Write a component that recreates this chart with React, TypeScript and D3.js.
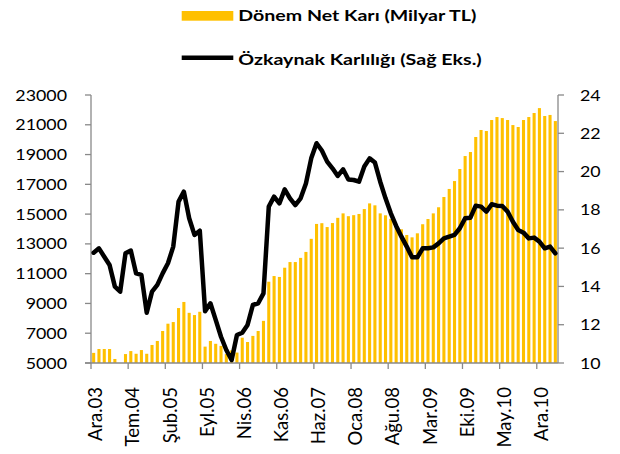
import React from "react";
import * as d3 from "d3";

const categories = [
  "Ara.03",
  "Oca.04","Şub.04","Mar.04","Nis.04","May.04","Haz.04","Tem.04","Ağu.04","Eyl.04","Eki.04","Kas.04","Ara.04",
  "Oca.05","Şub.05","Mar.05","Nis.05","May.05","Haz.05","Tem.05","Ağu.05","Eyl.05","Eki.05","Kas.05","Ara.05",
  "Oca.06","Şub.06","Mar.06","Nis.06","May.06","Haz.06","Tem.06","Ağu.06","Eyl.06","Eki.06","Kas.06","Ara.06",
  "Oca.07","Şub.07","Mar.07","Nis.07","May.07","Haz.07","Tem.07","Ağu.07","Eyl.07","Eki.07","Kas.07","Ara.07",
  "Oca.08","Şub.08","Mar.08","Nis.08","May.08","Haz.08","Tem.08","Ağu.08","Eyl.08","Eki.08","Kas.08","Ara.08",
  "Oca.09","Şub.09","Mar.09","Nis.09","May.09","Haz.09","Tem.09","Ağu.09","Eyl.09","Eki.09","Kas.09","Ara.09",
  "Oca.10","Şub.10","Mar.10","Nis.10","May.10","Haz.10","Tem.10","Ağu.10","Eyl.10","Eki.10","Kas.10","Ara.10",
  "Oca.11","Şub.11","Mar.11",
];

// Dönem Net Karı (Milyar TL) - left axis
const netProfit = [
  5680, 5940, 5940, 5940, 5270, 4900, 5600, 5800, 5620, 5870, 5620, 6210,
  6480, 7150, 7640, 7750, 8690, 9100, 8370, 8220, 8440, 6100, 6480, 6290,
  6150, 5600, 5850, 5700, 6700, 6410, 6820, 7150, 7830, 10460, 10840, 10780,
  11400, 11780, 11780, 12060, 12460, 13340, 14340, 14390, 14130, 14400, 14750, 15050,
  14860, 14930, 15010, 15340, 15720, 15590, 15050, 14920, 14670, 14290, 13980, 13600,
  13440, 13710, 14320, 14670, 15050, 15460, 16150, 16690, 17220, 18030, 18900, 19170,
  20180, 20650, 20580, 21320, 21520, 21450, 21320, 20980, 20850, 21320, 21520, 21790,
  22120, 21590, 21660, 21250,
];

// Özkaynak Karlılığı (Sağ Eks.) - right axis
const roe = [
  15.76, 15.99, 15.55, 15.12, 13.99, 13.73, 15.73, 15.87, 14.68, 14.6, 12.63, 13.73,
  14.08, 14.68, 15.21, 16.08, 18.43, 18.95, 17.56, 16.69, 16.91, 12.7, 13.12, 12.25,
  11.37, 10.68, 10.16, 11.46, 11.58, 11.99, 13.03, 13.12, 13.64, 18.17, 18.69, 18.34,
  19.07, 18.6, 18.25, 18.6, 19.38, 20.69, 21.48, 21.1, 20.52, 20.17, 19.77, 20.12,
  19.59, 19.56, 19.47, 20.26, 20.69, 20.47, 19.47, 18.6, 17.82, 17.16, 16.6, 16.08,
  15.52, 15.52, 15.99, 15.99, 16.04, 16.25, 16.51, 16.6, 16.69, 17.04, 17.56, 17.59,
  18.22, 18.17, 17.91, 18.29, 18.22, 18.2, 17.91, 17.38, 16.95, 16.81, 16.51, 16.55,
  16.34, 15.99, 16.08, 15.73,
];

const leftTicks = [5000, 7000, 9000, 11000, 13000, 15000, 17000, 19000, 21000, 23000];
const rightTicks = [10, 12, 14, 16, 18, 20, 22, 24];
const xTickLabels = [
  "Ara.03", "Tem.04", "Şub.05", "Eyl.05", "Nis.06", "Kas.06", "Haz.07",
  "Oca.08", "Ağu.08", "Mar.09", "Eki.09", "May.10", "Ara.10",
];

const legendBar = "Dönem Net Karı (Milyar TL)";
const legendLine = "Özkaynak Karlılığı (Sağ Eks.)";

export default function App() {
  const W = 620, H = 454;
  const L = 91, R = 558, T = 95, B = 363;
  const font = "Lato, 'Open Sans', sans-serif";
  const axisColor = "#898989";
  const gold = "#FFC000";

  const idx = d3.range(categories.length);
  const x = d3.scaleBand<number>().domain(idx).range([L, R]).paddingInner(0.42).paddingOuter(0.21);
  const step = x.step();
  const yL = d3.scaleLinear().domain([5000, 23000]).range([B, T]);
  const yR = d3.scaleLinear().domain([10, 24]).range([B, T]);
  const cx = (i: number) => (x(i) as number) + x.bandwidth() / 2;
  const linePath = d3.line<number>().x((_, i) => cx(i)).y((d) => yR(d)).curve(d3.curveLinear)(roe) || "";

  const tickFs = 15.5;
  const tickSx = 1.15;
  const capOff = tickFs * 0.7165 / 2;

  return (
    <svg width={W} height={H} style={{ position: "absolute", left: 0, top: 0, background: "#fff" }} fontFamily={font}>
      {/* Legend */}
      <rect x={181.7} y={11} width={51.6} height={9.7} fill={gold} />
      <text x={238.3} y={20.8} fontSize={15.8} fontWeight={700} fill="#000" textLength={238} lengthAdjust="spacingAndGlyphs">{legendBar}</text>
      <line x1={181.7} x2={233.3} y1={57.7} y2={57.7} stroke="#000" strokeWidth={4.5} />
      <text x={238.3} y={65.2} fontSize={15.8} fontWeight={700} fill="#000" textLength={243.4} lengthAdjust="spacingAndGlyphs">{legendLine}</text>

      {/* Bars */}
      {netProfit.map((v, i) => {
        const top = yL(Math.max(v, 5000));
        return <rect key={i} x={x(i)} y={top} width={x.bandwidth()} height={Math.max(0, B - top)} fill={gold} />;
      })}

      {/* Axes */}
      <line x1={L} x2={L} y1={T} y2={B} stroke={axisColor} strokeWidth={1.3} />
      <line x1={R} x2={R} y1={T} y2={B} stroke={axisColor} strokeWidth={1.3} />
      <line x1={L - 6} x2={R} y1={B} y2={B} stroke={axisColor} strokeWidth={1.3} />
      {leftTicks.map((t) => (
        <g key={"l" + t}>
          <line x1={L - 6} x2={L} y1={yL(t)} y2={yL(t)} stroke={axisColor} strokeWidth={1.3} />
          <text transform={`translate(${L - 24},${yL(t) + capOff}) scale(${tickSx},1)`} textAnchor="end" fontSize={tickFs} fill="#000">{t}</text>
        </g>
      ))}
      {rightTicks.map((t) => (
        <g key={"r" + t}>
          <line x1={R} x2={R + 6} y1={yR(t)} y2={yR(t)} stroke={axisColor} strokeWidth={1.3} />
          <text transform={`translate(${R + 22},${yR(t) + capOff}) scale(${tickSx},1)`} textAnchor="start" fontSize={tickFs} fill="#000">{t}</text>
        </g>
      ))}
      {xTickLabels.map((lab) => {
        const i = categories.indexOf(lab);
        const bx = (x(i) as number) - (step - x.bandwidth()) / 2;
        return (
          <g key={lab}>
            <line x1={bx} x2={bx} y1={B} y2={B + 6} stroke={axisColor} strokeWidth={1.3} />
            <text transform={`translate(${cx(i) + 8.6},387) rotate(-90)`} textAnchor="end" fontSize={18.5} fill="#000">{lab}</text>
          </g>
        );
      })}

      {/* Line */}
      <path d={linePath} fill="none" stroke="#000" strokeWidth={4.5} strokeLinejoin="round" strokeLinecap="round" />
    </svg>
  );
}
